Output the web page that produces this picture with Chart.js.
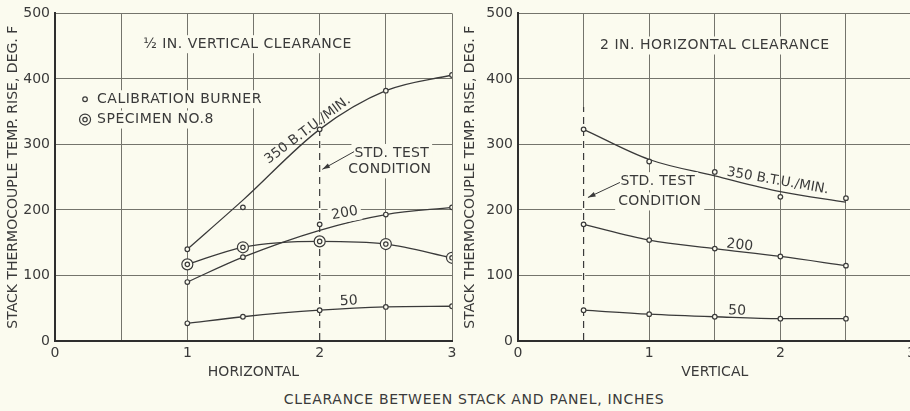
<!DOCTYPE html>
<html><head><meta charset="utf-8">
<script src="https://cdn.jsdelivr.net/npm/chart.js@4.4.1/dist/chart.umd.min.js"></script>
<style>
html,body{margin:0;padding:0;background:#fbfbef;overflow:hidden;width:910px;height:411px;}
#wrapL{position:absolute;left:0;top:0;width:465px;height:385px;}
#wrapR{position:absolute;left:455px;top:0;width:465px;height:385px;}
#foot{position:absolute;left:224px;top:391px;width:500px;text-align:center;font:14px "DejaVu Sans";letter-spacing:0.7px;color:#3a3a3a;white-space:nowrap;}
</style></head><body>
<div id="wrapL"><canvas id="cL"></canvas></div>
<div id="wrapR"><canvas id="cR"></canvas></div>
<div id="foot">CLEARANCE BETWEEN STACK AND PANEL, INCHES</div>
<script>
// ---- data ----
const xTickLabels = ['0', '1', '2', '3'];
const yTickValues = [0, 100, 200, 300, 400, 500];

// Left panel: 1/2 in. vertical clearance, x = horizontal clearance (in.)
const xLeft = [1, 1.42, 2, 2.5, 3];
const leftCal350Points = [140, 204, 323, 382, 406];
const leftCal350Curve  = [140, 215, 323, 382, 406];
const leftCal200Points = [90, 128, 178, 193, 204];
const leftCal200Curve  = [90, 128, 169, 193, 204];
const leftSpecimen8    = [117, 143, 152, 148, 127];
const leftCal50        = [27, 37, 47, 52, 53];

// Right panel: 2 in. horizontal clearance, x = vertical clearance (in.)
const xRight = [0.5, 1, 1.5, 2, 2.5];
const rightCal350Points = [323, 274, 258, 220, 218];
const rightCal350Curve  = [323, 277, 252, 228, 212];
const rightCal200       = [178, 154, 141, 129, 115];
const rightCal50        = [47, 41, 37, 34, 34];

// ---- styling ----
const BG = '#fbfbef';
const INK = '#3a3a3a';
const GRID = '#74746c';
const FONT = '"DejaVu Sans"';
Chart.defaults.font.family = FONT;
Chart.defaults.color = INK;

const pts = (xs, ys) => xs.map((x, i) => ({x, y: ys[i]}));

// lower "order" is drawn on top
function curve(xs, ys) {
  return {data: pts(xs, ys), showLine: true, borderColor: INK, borderWidth: 1.3, order: 5,
          pointRadius: 0, cubicInterpolationMode: 'monotone', fill: false};
}
function marks(xs, ys, r, order) {
  return {data: pts(xs, ys), showLine: false, pointRadius: r, pointHoverRadius: r, order: order,
          pointBorderWidth: 1.2, pointBorderColor: INK, pointBackgroundColor: BG};
}

const decor = {
  id: 'decor',
  beforeDatasetsDraw(chart, args, o) {
    const {ctx, scales: {x, y}} = chart;
    if (o.dashed) {
      const px = x.getPixelForValue(o.dashed.x);
      const ya = y.getPixelForValue(o.dashed.y0) - 1, yb = y.getPixelForValue(o.dashed.y1);
      ctx.save();
      ctx.strokeStyle = BG; ctx.lineWidth = 3;
      ctx.beginPath(); ctx.moveTo(px, ya); ctx.lineTo(px, yb); ctx.stroke();
      ctx.strokeStyle = INK; ctx.lineWidth = 1.2; ctx.setLineDash([7, 5]);
      ctx.beginPath(); ctx.moveTo(px, ya); ctx.lineTo(px, yb); ctx.stroke();
      ctx.restore();
    }
  },
  afterDatasetsDraw(chart, args, o) {
    const {ctx, scales: {x, y}} = chart;
    ctx.save();
    (o.texts || []).forEach(t => {
      const px = x.getPixelForValue(t.x), py = y.getPixelForValue(t.y);
      ctx.save();
      ctx.translate(px, py);
      ctx.rotate((t.rot || 0) * Math.PI / 180);
      ctx.font = (t.size || 14) + 'px ' + FONT;
      ctx.letterSpacing = (t.ls === undefined ? 0.5 : t.ls) + 'px';
      ctx.textAlign = t.align || 'center';
      ctx.textBaseline = 'middle';
      if (t.bg) {
        const w = ctx.measureText(t.t).width;
        const x0 = t.align === 'left' ? -3 : -w / 2 - 3;
        ctx.fillStyle = BG; ctx.fillRect(x0, -9, w + 6, 18);
      }
      ctx.fillStyle = INK;
      ctx.fillText(t.t, 0, 0);
      ctx.restore();
    });
    (o.symbols || []).forEach(s => {
      const px = x.getPixelForValue(s.x), py = y.getPixelForValue(s.y);
      ctx.strokeStyle = INK; ctx.lineWidth = 1.2; ctx.fillStyle = BG;
      const radii = s.type === 'spec' ? [5.5, 2.2] : [2.3];
      radii.forEach(r => { ctx.beginPath(); ctx.arc(px, py, r, 0, Math.PI * 2); ctx.fill(); ctx.stroke(); });
    });
    if (o.arrow) {
      const a = o.arrow;
      const x0 = x.getPixelForValue(a.x0), y0 = y.getPixelForValue(a.y0);
      const x1 = x.getPixelForValue(a.x1), y1 = y.getPixelForValue(a.y1);
      ctx.strokeStyle = INK; ctx.fillStyle = INK; ctx.lineWidth = 1;
      ctx.beginPath(); ctx.moveTo(x0, y0); ctx.lineTo(x1, y1); ctx.stroke();
      const ang = Math.atan2(y1 - y0, x1 - x0);
      ctx.beginPath(); ctx.moveTo(x1, y1);
      ctx.lineTo(x1 - 8 * Math.cos(ang - 0.3), y1 - 8 * Math.sin(ang - 0.3));
      ctx.lineTo(x1 - 8 * Math.cos(ang + 0.3), y1 - 8 * Math.sin(ang + 0.3));
      ctx.closePath(); ctx.fill();
    }
    ctx.restore();
  }
};

function makeOptions(xTitle, yAxisWidth, yTitlePad, rightPad, decorOpts) {
  return {
    responsive: true, maintainAspectRatio: false, animation: false,
    layout: {padding: {top: 13, right: rightPad, left: 0, bottom: 0}},
    plugins: {legend: {display: false}, tooltip: {enabled: false}, decor: decorOpts},
    scales: {
      x: {type: 'linear', min: 0, max: 3,
          ticks: {stepSize: 0.5, autoSkip: false, maxRotation: 0, padding: 4,
                  font: {size: 14}, color: INK,
                  callback: v => Number.isInteger(v) ? xTickLabels[v] : ''},
          grid: {color: GRID, lineWidth: 1, drawTicks: false},
          border: {display: true, color: '#2e2e2e', width: 2},
          title: {display: true, text: xTitle, font: {size: 14}, color: INK, padding: {top: 0, bottom: 4.5}},
          afterFit: s => { s.height = 44; }},
      y: {type: 'linear', min: 0, max: 500,
          afterBuildTicks: s => { s.ticks = yTickValues.map(v => ({value: v})); },
          ticks: {padding: 5, font: {size: 14}, color: INK},
          grid: {color: GRID, lineWidth: 1, drawTicks: false},
          border: {display: true, color: '#2e2e2e', width: 2},
          title: {display: true, text: 'STACK THERMOCOUPLE TEMP. RISE, DEG. F', font: {size: 14}, color: INK,
                  padding: {top: yTitlePad, bottom: 0}},
          afterFit: s => { s.width = yAxisWidth; }}
    }
  };
}

new Chart(document.getElementById('cL'), {
  type: 'scatter',
  data: {datasets: [
    curve(xLeft, leftCal350Curve),
    curve(xLeft, leftCal200Curve),
    curve(xLeft, leftSpecimen8),
    curve(xLeft, leftCal50),
    marks(xLeft, leftCal350Points, 2.3, 1),
    marks(xLeft, leftCal200Points, 2.3, 1),
    marks(xLeft, leftCal50, 2.3, 1),
    marks(xLeft, leftSpecimen8, 5.5, 2),
    marks(xLeft, leftSpecimen8, 2.2, 0)
  ]},
  options: makeOptions('HORIZONTAL', 55, 4.6, 13, {
    texts: [
      {t: '½ IN. VERTICAL CLEARANCE', x: 1.455, y: 453, bg: true},
      {t: 'CALIBRATION BURNER', x: 0.318, y: 369, align: 'left', bg: true},
      {t: 'SPECIMEN NO.8', x: 0.318, y: 338, align: 'left', bg: true},
      {t: '350 B.T.U./MIN.', x: 1.91, y: 322, rot: -37, size: 13.5, ls: 0},
      {t: '200', x: 2.19, y: 195, rot: -10, bg: true, size: 14, ls: 0},
      {t: '50', x: 2.22, y: 61, rot: -3, size: 14, ls: 0},
      {t: 'STD. TEST', x: 2.545, y: 287, bg: true, ls: 0.3},
      {t: 'CONDITION', x: 2.53, y: 262, bg: true, ls: 0.3}
    ],
    symbols: [{x: 0.227, y: 369, type: 'cal'}, {x: 0.227, y: 338, type: 'spec'}],
    dashed: {x: 2, y0: 0, y1: 330},
    arrow: {x0: 2.26, y0: 289, x1: 2.02, y1: 262}
  })
, plugins: [decor]});

new Chart(document.getElementById('cR'), {
  type: 'scatter',
  data: {datasets: [
    curve(xRight, rightCal350Curve),
    curve(xRight, rightCal200),
    curve(xRight, rightCal50),
    marks(xRight, rightCal350Points, 2.3, 1),
    marks(xRight, rightCal200, 2.3, 1),
    marks(xRight, rightCal50, 2.3, 1)
  ]},
  options: makeOptions('VERTICAL', 63, 6.6, 8, {
    texts: [
      {t: '2 IN. HORIZONTAL CLEARANCE', x: 1.5, y: 451, bg: true},
      {t: '350 B.T.U./MIN.', x: 1.98, y: 244, rot: 10, size: 13.5, ls: 0},
      {t: '200', x: 1.69, y: 146, rot: 6, size: 14, ls: 0},
      {t: '50', x: 1.67, y: 46, rot: 2, size: 14, ls: 0},
      {t: 'STD. TEST', x: 1.066, y: 244, bg: true, ls: 0.3},
      {t: 'CONDITION', x: 1.08, y: 213, bg: true, ls: 0.3}
    ],
    dashed: {x: 0.5, y0: 0, y1: 357},
    arrow: {x0: 0.777, y0: 242, x1: 0.533, y1: 219}
  })
, plugins: [decor]});
</script>
</body></html>
